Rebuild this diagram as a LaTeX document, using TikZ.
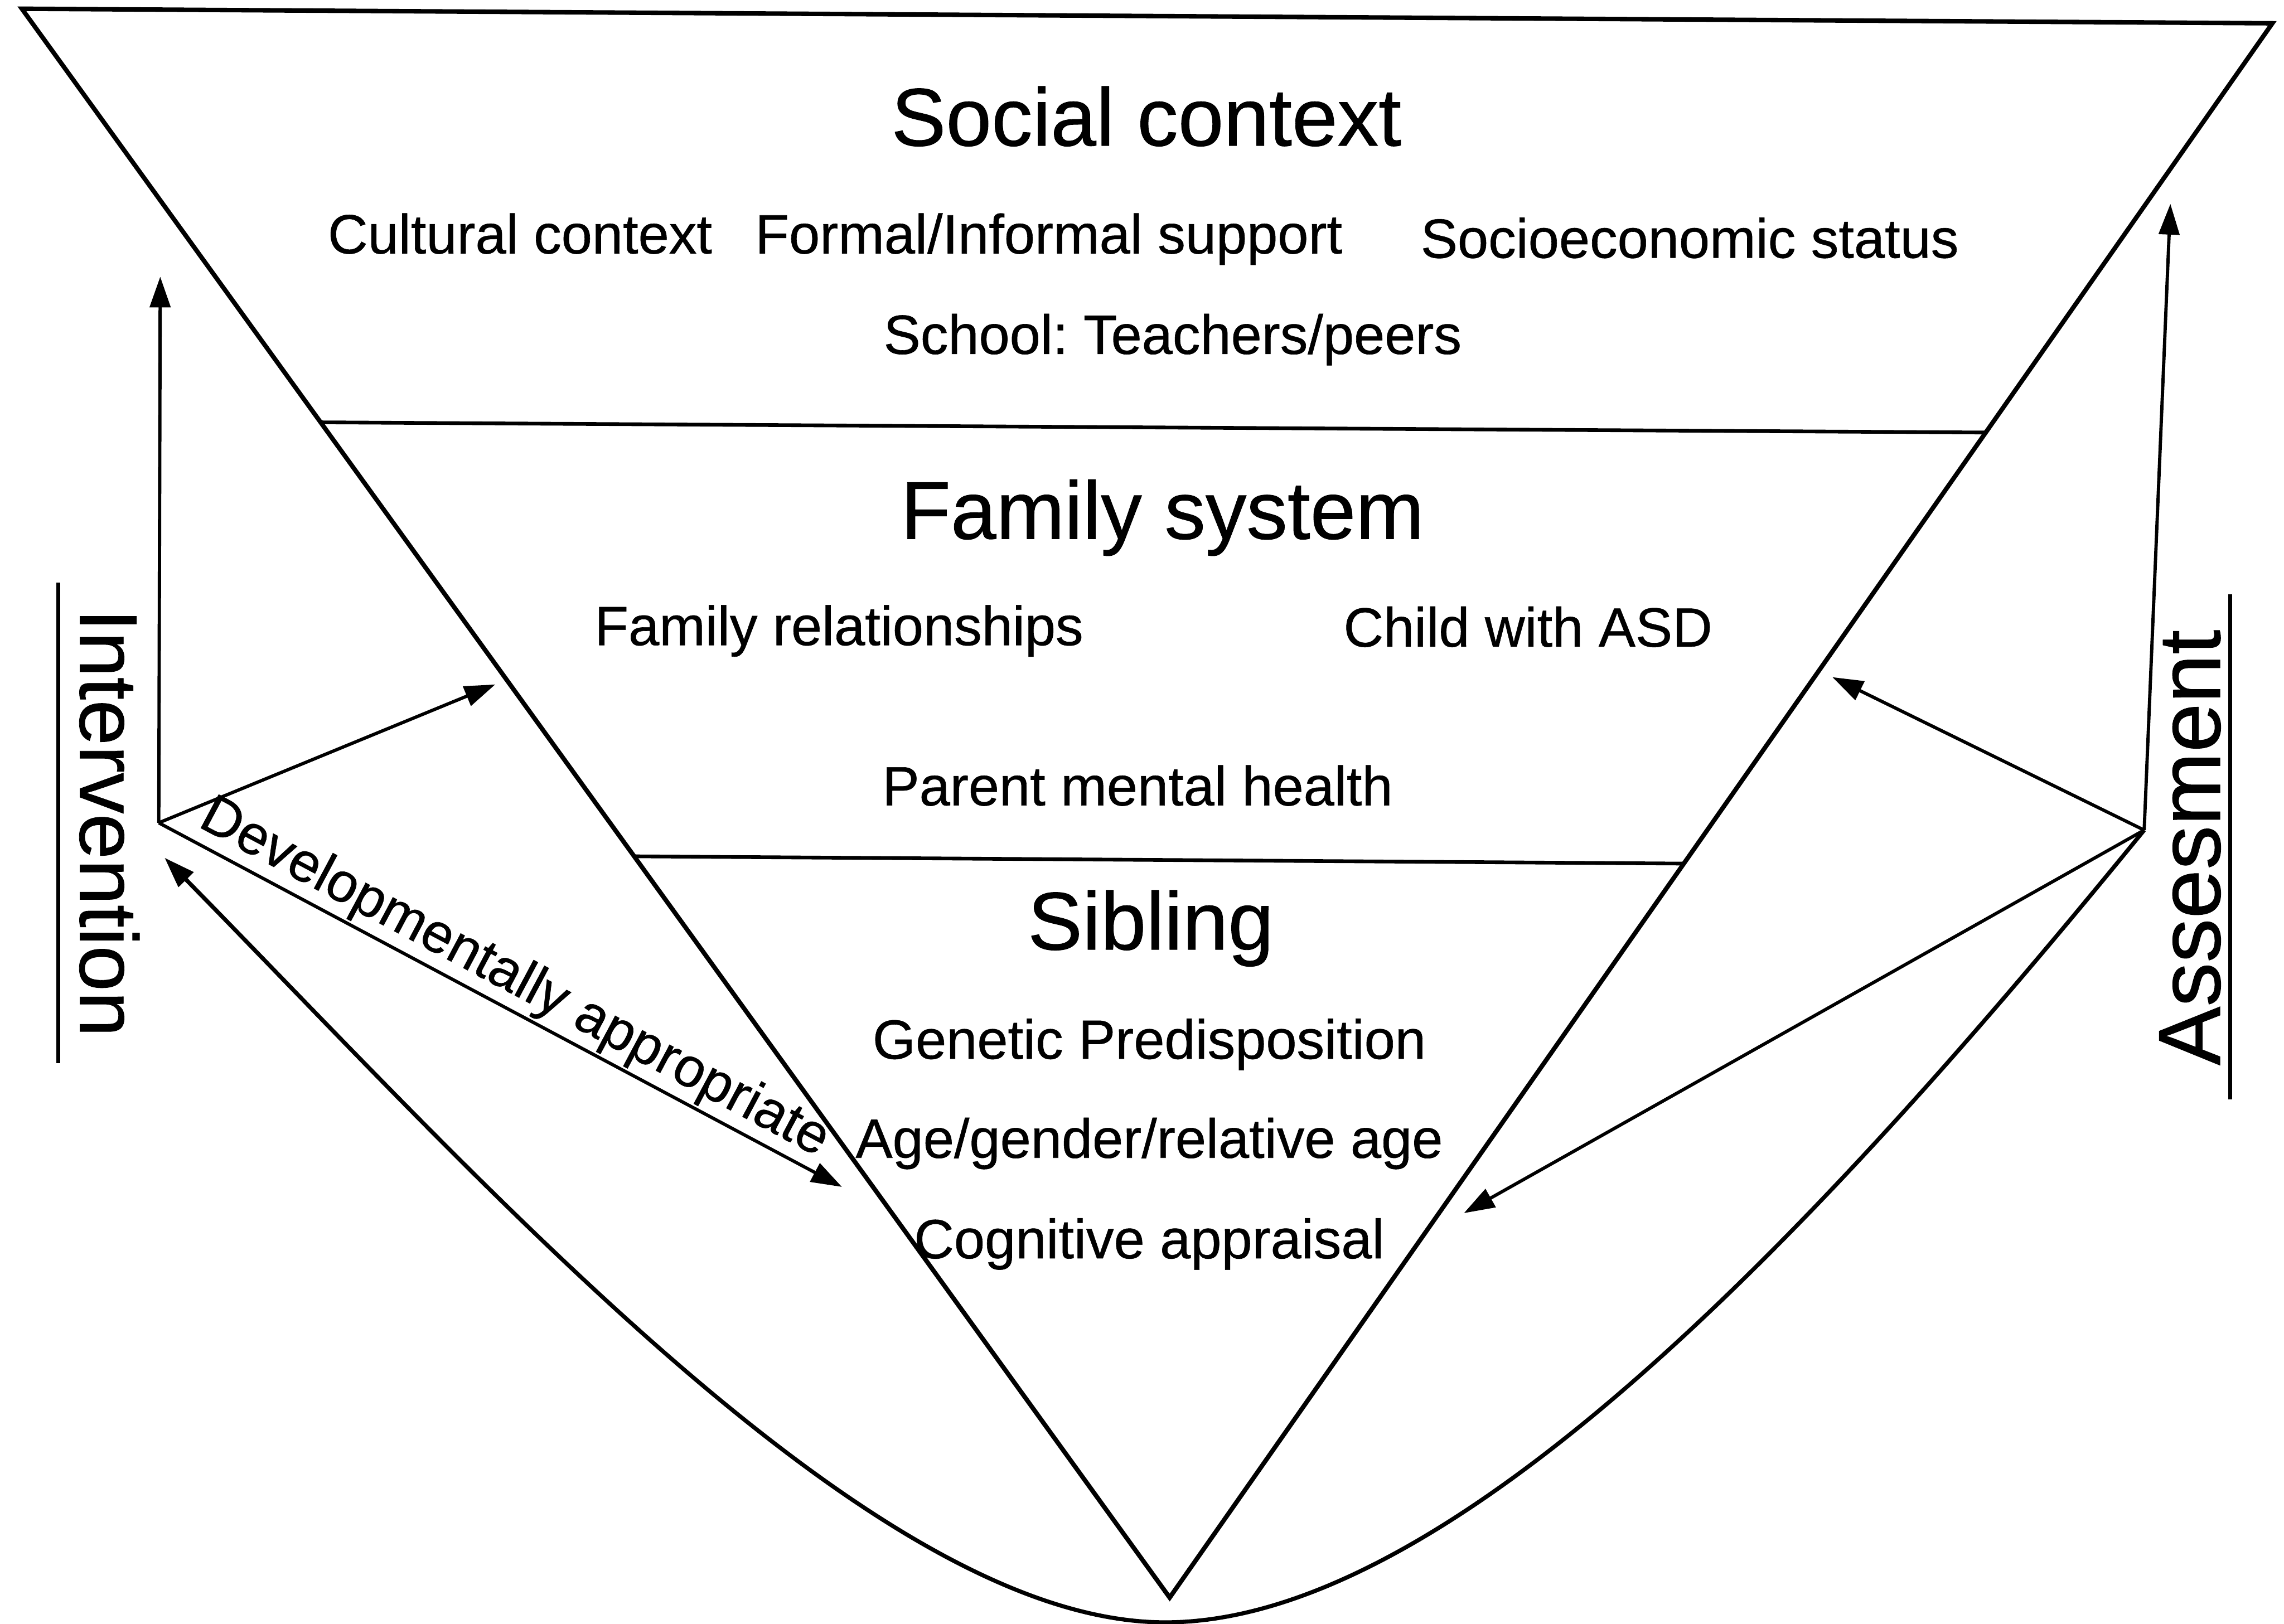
\documentclass[tikz,border=0pt]{standalone}
\usepackage{fontspec}
\setmainfont{Liberation Sans}[FakeBold=0.6]
\usetikzlibrary{arrows.meta}
\frenchspacing
\begin{document}
\begin{tikzpicture}[x=0.025cm,y=-0.025cm,
  frame/.style={line width=2.2pt, line join=miter},
  divider/.style={line width=1.8pt},
  tip/.style={Triangle[length=15pt,width=10pt]},
  link/.style={line width=1.6pt, -{Triangle[length=15pt,width=10pt]}},
  bigtext/.style={font=\fontsize{40}{48}\selectfont, inner sep=0pt, anchor=base},
  smalltext/.style={font=\fontsize{27}{32}\selectfont, inner sep=0pt, anchor=base},
]
\useasboundingbox (0,0) rectangle (1568,1115);

% corners of the inverted triangle and the two level lines
\coordinate (tl) at (15,6);
\coordinate (tr) at (1560,16);
\coordinate (apex) at (803,1097);
\coordinate (d1l) at (221,290);
\coordinate (d1r) at (1364,297);
\coordinate (d2l) at (436,588);
\coordinate (d2r) at (1157,593);

\draw[frame] (tl) -- (tr) -- (apex) -- cycle;
\draw[divider] (d1l) -- (d1r);
\draw[divider] (d2l) -- (d2r);

% hubs on either side
\coordinate (iv) at (109,565);
\coordinate (av) at (1472,570);
\coordinate (ivtop) at (110,190);
\coordinate (avtop) at (1490,140);
\coordinate (ivfam) at (340,470);
\coordinate (ivsib) at (578,815);
\coordinate (avfam) at (1258,465);
\coordinate (avsib) at (1005,833);
\coordinate (curvein) at (113,589);
\coordinate (low) at (800,1114);

% intervention arrows
\draw[link] (iv) -- (ivtop);
\draw[link] (iv) -- (ivfam);
\draw[link] (iv) -- (ivsib)
  node[pos=0.5, sloped, above, inner sep=1pt, font=\fontsize{27}{32}\selectfont] (dev) {Developmentally appropriate};

% assessment arrows
\draw[link] (av) -- (avtop);
\draw[link] (av) -- (avfam);
\draw[link] (av) -- (avsib);

% feedback curve under the triangle
\draw[line width=2pt, {Triangle[length=15pt,width=10pt]}-]
  (curvein) .. controls (330,810) and (600,1114) .. (low)
  .. controls (1000,1114) and (1260,830) .. (av);

% side labels with their rules
\node[font=\fontsize{40}{48}\selectfont, inner sep=0pt, anchor=base, rotate=-90] (interv) at (55,565) {Intervention};
\coordinate (ivl1) at (40,400);
\coordinate (ivl2) at (40,730);
\draw[line width=2pt] (ivl1) -- (ivl2);

\node[font=\fontsize{43}{50}\selectfont, inner sep=0pt, anchor=base, rotate=90] (assess) at (1524,582) {Assesment};
\coordinate (avl1) at (1531,408);
\coordinate (avl2) at (1531,755);
\draw[line width=2pt] (avl1) -- (avl2);

% social context level
\node[bigtext] (social) at (787,100) {Social context};
\node[smalltext] (cult) at (357,174) {Cultural context};
\node[smalltext] (formal) at (720,174) {Formal/Informal support};
\node[smalltext] (ses) at (1160,177) {Socioeconomic status};
\node[smalltext] (school) at (805,243) {School: Teachers/peers};

% family level
\node[bigtext] (family) at (798,370) {Family system};
\node[smalltext] (famrel) at (576,443) {Family relationships};
\node[smalltext] (child) at (1049,444) {Child with ASD};
\node[smalltext] (parent) at (781,553) {Parent mental health};

% sibling level
\node[bigtext] (sibling) at (790,652) {Sibling};
\node[smalltext] (genetic) at (789,727) {Genetic Predisposition};
\node[smalltext] (age) at (789,795) {Age/gender/relative age};
\node[smalltext] (cog) at (789,864) {Cognitive appraisal};
\end{tikzpicture}
\end{document}
